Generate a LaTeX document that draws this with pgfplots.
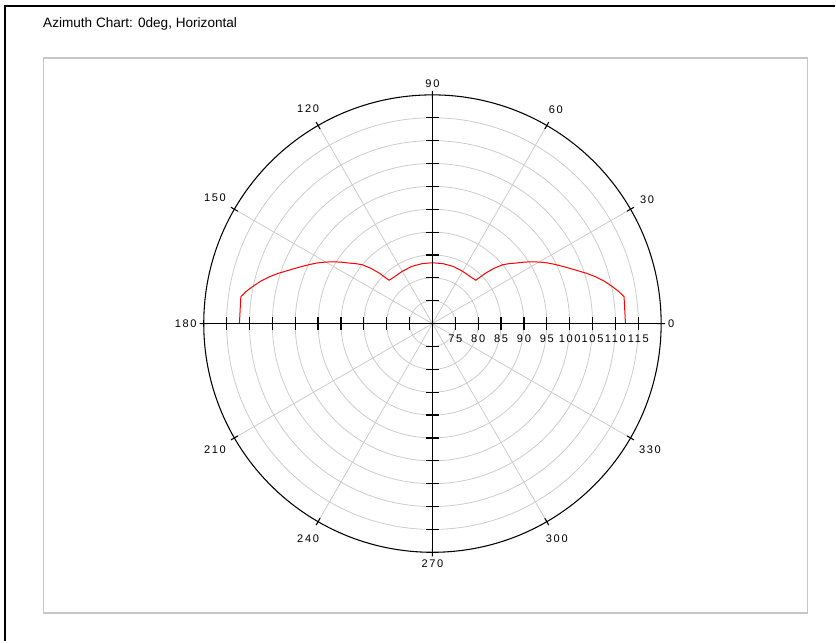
\documentclass[border=0pt]{standalone}
\usepackage{fontspec}
\setmainfont{Liberation Sans}
\newfontfamily\tickfont[LetterSpace=15]{Liberation Sans}
\usepackage{pgfplots}
\pgfplotsset{compat=1.18}
\usepgfplotslibrary{polar}

% azimuth pattern, angle in degrees, level (offset axis from 70)
\pgfplotstableread{
ang r
0 112.2
8 112.3
10 111.2
12 109.9
14 108.6
16 107.1
18 105.5
20 103.8
22 102.3
24 100.9
26 99.6
28 98.3
30 96.9
32 95.5
34 94.0
36 92.5
38 91.3
40 90.0
42 88.0
43.5 86.0
45 83.4
50 83.2
60 83.2
70 83.3
80 83.3
90 83.3
100 83.3
110 83.3
120 83.2
130 83.2
135 83.4
136.5 86.0
138 88.0
140 90.0
142 91.3
144 92.5
146 94.0
148 95.5
150 96.9
152 98.3
154 99.6
156 100.9
158 102.3
160 103.8
162 105.5
164 107.1
166 108.6
168 109.9
170 111.2
172 112.3
180 112.2
}\pattern

\begin{document}
\begin{tikzpicture}
\begin{scope}[x=0.75bp,y=0.75bp]
\path (0,0) rectangle (836,642);
\draw[black, line width=1.6bp] (5,0) -- (5,636) -- (836,636);
\draw[gray!45, line width=1.1bp] (43.5,28) rectangle (808.5,584);
\node[anchor=base west, inner sep=0pt, font=\fontsize{10.2bp}{12bp}\selectfont] at (43,614) {Azimuth Chart: 0deg, Horizontal};
\end{scope}

\begin{polaraxis}[
  scale only axis,
  width=343.5bp, height=343.5bp,
  at={(324.75bp,238.5bp)}, anchor=center,
  ymin=70, ymax=120,
  y coord trafo/.code={\pgfmathparse{#1-70}},
  y coord inv trafo/.code={\pgfmathparse{#1+70}},
  xtick={0,30,...,330},
  ytick={75,80,...,115},
  grid=major,
  major grid style={gray!40, line width=0.6bp},
  axis line style={black, line width=0.8bp},
  tick style={black, line width=0.8bp},
  xtick align=center,
  major tick length=6bp,
  ytick style={draw=none},
  /pgf/number format/assume math mode=true,
  ticklabel style={font=\tickfont\fontsize{8.3bp}{9bp}\selectfont},
  xticklabel style={outer sep=5bp},
  yticklabel style={anchor=north, yshift=-5bp},
]
\addplot[red, line width=0.75bp, mark=none] table[x=ang, y=r] {\pattern};
\draw[black, line width=0.9bp] (axis cs:0,120) -- (axis cs:180,120);
\draw[black, line width=0.9bp] (axis cs:90,120) -- (axis cs:270,120);
\pgfplotsinvokeforeach{75,80,...,115}{
  \draw[black, line width=0.9bp] ([yshift=-4.9bp]axis cs:0,#1) -- ([yshift=4.9bp]axis cs:0,#1);
  \draw[black, line width=0.9bp] ([yshift=-4.9bp]axis cs:180,#1) -- ([yshift=4.9bp]axis cs:180,#1);
  \draw[black, line width=0.9bp] ([xshift=-4.9bp]axis cs:90,#1) -- ([xshift=4.9bp]axis cs:90,#1);
  \draw[black, line width=0.9bp] ([xshift=-4.9bp]axis cs:270,#1) -- ([xshift=4.9bp]axis cs:270,#1);
}
\end{polaraxis}
\end{tikzpicture}
\end{document}
